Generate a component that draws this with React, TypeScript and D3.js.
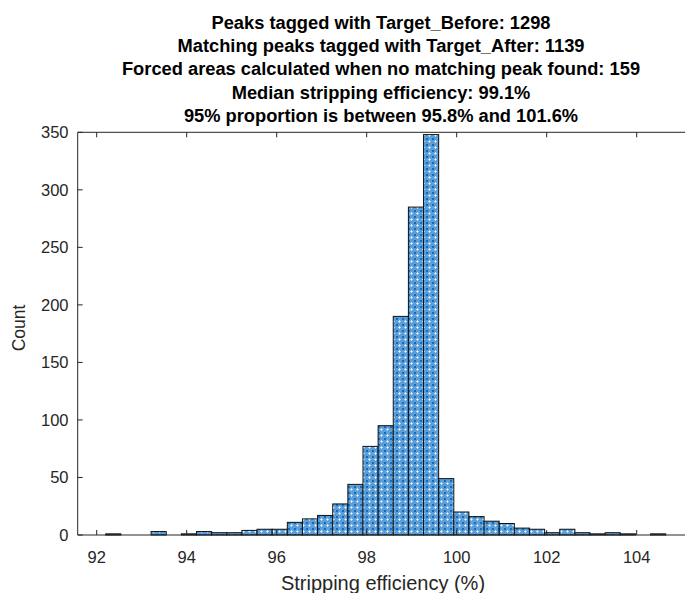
import React from "react";
import * as d3 from "d3";

const titleLines = [
  "Peaks tagged with Target_Before: 1298",
  "Matching peaks tagged with Target_After: 1139",
  "Forced areas calculated when no matching peak found: 159",
  "Median stripping efficiency: 99.1%",
  "95% proportion is between 95.8% and 101.6%",
];
const xTicks = [92, 94, 96, 98, 100, 102, 104];
const yTicks = [0, 50, 100, 150, 200, 250, 300, 350];
const binStart = 92.2;
const binWidth = 0.33634;
const counts = [
  1, 0, 0, 3, 0, 1, 3, 2, 2, 4, 5, 5, 11, 14, 17, 27, 44, 77, 95, 190, 285, 348,
  49, 20, 16, 12, 10, 6, 5, 2, 5, 2, 1, 2, 1, 0, 1,
];
const xLabel = "Stripping efficiency (%)";
const yLabel = "Count";

const W = 685;
const H = 593;
const left = 77.7;
const top = 132.3;
const bottom = 535;
const xDomain: [number, number] = [91.578, 105.2];

export default function App() {
  const x = d3
    .scaleLinear()
    .domain(xDomain)
    .range([left, left + 45 * (xDomain[1] - xDomain[0])]);
  const y = d3.scaleLinear().domain([0, 350]).range([bottom, top]);
  const right = x(xDomain[1]);
  const bins = counts.map((c, i) => ({
    x0: binStart + i * binWidth,
    x1: binStart + (i + 1) * binWidth,
    c,
  }));
  const axisColor = "#262626";
  const font = "'Liberation Sans', Arial, sans-serif";
  return (
    <div style={{ position: "absolute", left: 0, top: 0 }}>
      <svg width={W} height={H} style={{ display: "block", background: "#fff" }}>
        <defs>
          <pattern id="dith" width="6" height="6" patternUnits="userSpaceOnUse">
            <rect width="6" height="6" fill="#5c9fd8" />
            <rect x="0" y="0" width="2" height="2" fill="#0f6cc0" />
            <rect x="3" y="3" width="1" height="1" fill="#ffffff" />
            <rect x="2" y="3" width="1" height="1" fill="#b4d6f2" />
            <rect x="4" y="3" width="1" height="1" fill="#b4d6f2" />
            <rect x="3" y="2" width="1" height="1" fill="#b4d6f2" />
            <rect x="3" y="4" width="1" height="1" fill="#b4d6f2" />
          </pattern>
        </defs>
        <g>
          {bins
            .filter((b) => b.c > 0)
            .map((b, i) => (
              <rect
                key={i}
                x={x(b.x0)}
                y={y(b.c)}
                width={x(b.x1) - x(b.x0)}
                height={y(0) - y(b.c)}
                fill="url(#dith)"
                stroke="#111"
                strokeWidth={1}
              />
            ))}
        </g>
        <line x1={left} x2={right} y1={bottom} y2={bottom} stroke={axisColor} strokeWidth={1} />
        <line x1={left} x2={right} y1={top} y2={top} stroke={axisColor} strokeWidth={1} />
        <line x1={left} x2={left} y1={top} y2={bottom} stroke={axisColor} strokeWidth={1} />
        {xTicks.map((t) => (
          <g key={"xt" + t}>
            <line x1={x(t)} x2={x(t)} y1={bottom} y2={bottom - 5} stroke={axisColor} />
            <line x1={x(t)} x2={x(t)} y1={top} y2={top + 5} stroke={axisColor} />
            <text
              x={x(t)}
              y={562.5}
              textAnchor="middle"
              fontFamily={font}
              fontSize={16.5}
              fill={axisColor}
            >
              {t}
            </text>
          </g>
        ))}
        {yTicks.map((t) => (
          <g key={"yt" + t}>
            <line x1={left} x2={left + 5} y1={y(t)} y2={y(t)} stroke={axisColor} />
            <text
              x={68.5}
              y={y(t) + 6}
              textAnchor="end"
              fontFamily={font}
              fontSize={16.5}
              fill={axisColor}
            >
              {t}
            </text>
          </g>
        ))}
        <text
          x={383}
          y={590}
          textAnchor="middle"
          fontFamily={font}
          fontSize={20}
          fill={axisColor}
        >
          {xLabel}
        </text>
        <text
          transform={`translate(25,328) rotate(-90)`}
          textAnchor="middle"
          fontFamily={font}
          fontSize={17.5}
          fill={axisColor}
        >
          {yLabel}
        </text>
        {titleLines.map((t, i) => (
          <text
            key={"tl" + i}
            x={381}
            y={28.6 + i * 23.35}
            textAnchor="middle"
            fontFamily={font}
            fontWeight="bold"
            fontSize={18.3}
            fill="#000"
          >
            {t}
          </text>
        ))}
      </svg>
    </div>
  );
}
